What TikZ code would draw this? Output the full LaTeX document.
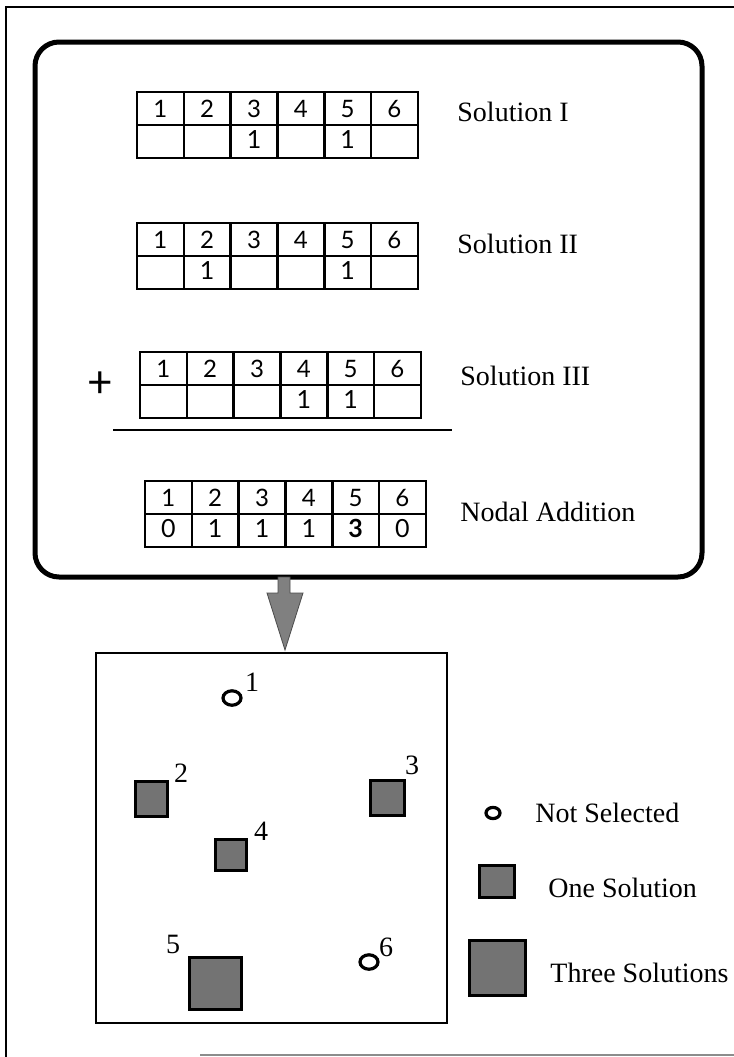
\documentclass[tikz,border=0pt]{standalone}
\usepackage{fontspec}
\setmainfont{Liberation Serif}
\newfontfamily\digitfont{Lato}
\usetikzlibrary{calc, shapes.geometric}

\begin{document}
\begin{tikzpicture}[x=0.5pt, y=-0.5pt,
  cell/.style={draw, line width=1.3pt, minimum width=23.4pt, minimum height=16.5pt, inner sep=0pt, font=\digitfont\fontsize{12}{12}\selectfont},
  val/.style={inner sep=0pt, font=\digitfont\fontsize{12.5}{12.5}\selectfont},
  lbl/.style={anchor=west, inner sep=0pt, font=\fontsize{14}{14}\selectfont},
  site/.style={draw, line width=1.7pt, fill=black!55, inner sep=0pt},
  nosite/.style={draw, ellipse, line width=1.6pt, inner sep=0pt, minimum width=#1, minimum height=0.8*#1},
  sitenum/.style={inner sep=0pt, font=\fontsize{14}{14}\selectfont}
]
  \useasboundingbox (0,0) rectangle (734,1057);

  % page frame
  \draw[line width=0.8pt] (6,1057) -- (6,7) -- (734,7);
  \draw[black!45, line width=0.6pt] (200,1055) -- (734,1055);

  % nodal addition panel
  \node[draw, rounded corners=12pt, line width=2.5pt, minimum width=333.5pt, minimum height=267.5pt] (sumbox) at (368.5,309.5) {};

  \foreach \t/\x/\y in {a/137/92, b/137/223, c/140/352, d/145/481} {
    \foreach \k in {1,...,6} {
      \node[cell] (\t\k) at ({\x+(\k-0.5)*46.8},{\y+16.5}) {\k};
      \node[cell] (\t\k v) at ({\x+(\k-0.5)*46.8},{\y+49.5}) {};
    }
  }
  \foreach \t/\k/\v in {a/3/1, a/5/1, b/2/1, b/5/1, c/4/1, c/5/1, d/1/0, d/2/1, d/3/1, d/4/1, d/5/\textbf{3}, d/6/0}
    \node[val] (\t\k n) at ($(\t\k v)+(0,-2)$) {\v};

  \node[lbl] (sol1) at (457,112) {Solution I};
  \node[lbl] (sol2) at (457,244) {Solution II};
  \node[lbl] (sol3) at (460,376) {Solution III};
  \node[lbl] (nodal) at (460,512) {Nodal Addition};

  \node[inner sep=0pt, font=\digitfont\fontsize{22}{22}\selectfont] (plus) at (100,385) {+};
  \draw[line width=1.2pt] (113,430) -- (452,430);

  % arrow down to the map
  \coordinate (arrtip) at (285,650);
  \filldraw[fill=black!50, draw=black!70, line width=0.4pt] (arrtip) -- ++(-18,-57) -- ++(11,0) -- ++(0,-16) -- ++(12,0) -- ++(0,16) -- ++(13,0) -- cycle;

  % site map
  \node[draw, line width=1pt, minimum width=175.5pt, minimum height=185pt] (map) at (271.5,838) {};

  \node[nosite=9pt] (n1) at (232,698) {};
  \node[site, minimum width=16pt, minimum height=17.5pt] (n2) at (151.5,799) {};
  \node[site, minimum width=17pt, minimum height=17.5pt] (n3) at (387.5,798) {};
  \node[site, minimum width=15.5pt, minimum height=15.5pt] (n4) at (231,855) {};
  \node[site, minimum width=26pt, minimum height=26pt] (n5) at (215.5,983.5) {};
  \node[nosite=9pt] (n6) at (369,962) {};

  \node[sitenum] (l1) at (252,682) {1};
  \node[sitenum] (l2) at (181,773) {2};
  \node[sitenum] (l3) at (412,765) {3};
  \node[sitenum] (l4) at (261,831) {4};
  \node[sitenum] (l5) at (173,944) {5};
  \node[sitenum] (l6) at (386,947) {6};

  % legend
  \node[nosite=7pt] (key0) at (493,813) {};
  \node[lbl] (key0t) at (535,813) {Not Selected};
  \node[site, minimum width=17.5pt, minimum height=16pt] (key1) at (497,881.5) {};
  \node[lbl] (key1t) at (548,888) {One Solution};
  \node[site, minimum width=28pt, minimum height=27.5pt] (key3) at (497.5,968) {};
  \node[lbl] (key3t) at (550,973) {Three Solutions};
\end{tikzpicture}
\end{document}
